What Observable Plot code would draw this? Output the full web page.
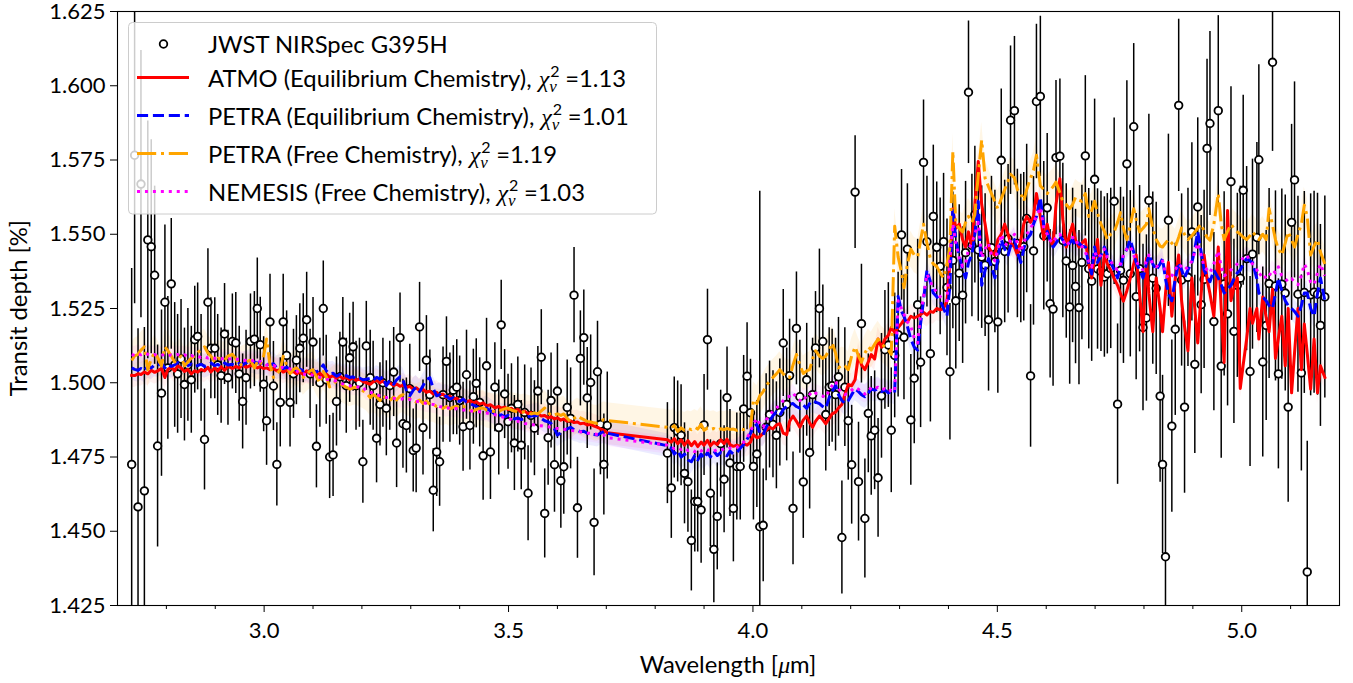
<!DOCTYPE html>
<html><head><meta charset="utf-8">
<script src="https://cdn.jsdelivr.net/npm/d3@7"></script>
<script src="https://cdn.jsdelivr.net/npm/@observablehq/plot@0.6"></script>
<style>
html,body{margin:0;padding:0;background:#fff;}
#chart{width:1353px;height:683px;overflow:hidden;}
</style></head><body><div id="chart"></div>
<script>
// ---- Observed spectrum (JWST NIRSpec G395H) ----
const wavelength = [
2.729,2.735,2.742,2.748,2.755,2.762,2.769,2.776,2.782,2.790,
2.797,2.803,2.810,2.817,2.823,2.830,2.837,2.844,2.851,2.858,
2.864,2.871,2.878,2.885,2.891,2.899,2.905,2.912,2.919,2.926,
2.935,2.942,2.949,2.956,2.963,2.972,2.980,2.986,2.992,2.999,
3.005,3.012,3.019,3.026,3.033,3.039,3.046,3.053,3.060,3.066,
3.073,3.080,3.087,3.094,3.100,3.107,3.114,3.121,3.127,3.134,
3.141,3.148,3.155,3.161,3.168,3.175,3.182,3.188,3.195,3.202,
3.209,3.217,3.223,3.230,3.237,3.243,3.250,3.257,3.265,3.271,
3.278,3.284,3.291,3.298,3.305,3.311,3.318,3.325,3.332,3.339,
3.346,3.353,3.359,3.366,3.373,3.380,3.387,3.394,3.400,3.407,
3.414,3.421,3.428,3.434,3.441,3.448,3.455,3.463,3.472,3.480,
3.485,3.492,3.499,3.506,3.512,3.519,3.526,3.533,3.540,3.546,
3.553,3.560,3.567,3.574,3.581,3.587,3.594,3.600,3.607,3.613,
3.620,3.627,3.634,3.641,3.647,3.654,3.661,3.668,3.675,3.682,
3.688,3.695,3.702,3.825,3.833,3.839,3.846,3.853,3.860,3.867,
3.874,3.881,3.887,3.894,3.900,3.907,3.913,3.920,3.927,3.934,
3.941,3.947,3.953,3.960,3.967,3.974,3.981,3.988,3.995,4.001,
4.008,4.014,4.021,4.027,4.034,4.041,4.048,4.055,4.062,4.069,
4.075,4.082,4.089,4.096,4.103,4.110,4.116,4.122,4.128,4.136,
4.143,4.149,4.156,4.162,4.169,4.175,4.182,4.188,4.195,4.202,
4.209,4.216,4.222,4.229,4.236,4.242,4.249,4.256,4.263,4.270,
4.277,4.283,4.290,4.297,4.304,4.309,4.316,4.323,4.330,4.337,
4.343,4.349,4.356,4.363,4.369,4.376,4.383,4.390,4.397,4.403,
4.409,4.415,4.422,4.429,4.435,4.441,4.448,4.454,4.461,4.468,
4.475,4.482,4.488,4.495,4.501,4.508,4.515,4.522,4.527,4.535,
4.541,4.548,4.554,4.560,4.568,4.574,4.580,4.588,4.595,4.602,
4.608,4.614,4.620,4.628,4.634,4.641,4.648,4.654,4.660,4.667,
4.673,4.680,4.687,4.693,4.699,4.705,4.712,4.719,4.725,4.732,
4.739,4.746,4.752,4.758,4.765,4.772,4.779,4.784,4.791,4.798,
4.805,4.810,4.818,4.825,4.833,4.838,4.844,4.850,4.857,4.864,
4.871,4.877,4.883,4.890,4.898,4.904,4.910,4.917,4.923,4.929,
4.935,4.943,4.952,4.958,4.964,4.971,4.978,4.984,4.991,4.997,
5.003,5.010,5.017,5.022,5.031,5.035,5.043,5.050,5.056,5.063,
5.069,5.075,5.082,5.089,5.095,5.102,5.108,5.115,5.122,5.128,
5.134,5.141,5.148,5.155,5.161,5.170];

const depth = [
1.4725,1.5766,1.4582,1.5669,1.4636,1.5481,1.5458,1.5362,1.4787,1.4965,
1.5271,1.5050,1.5333,1.5060,1.5030,1.5080,1.4994,1.5060,1.5010,1.5145,
1.5156,1.5050,1.4809,1.5271,1.5116,1.5116,1.5060,1.5024,1.5164,1.5017,
1.5139,1.5134,1.5030,1.4937,1.5017,1.5139,1.5147,1.5250,1.5128,1.4995,
1.4872,1.5205,1.4989,1.4725,1.4934,1.5205,1.5092,1.4934,1.5030,1.5076,
1.5116,1.5150,1.5212,1.5030,1.5137,1.4786,1.5000,1.5250,1.5010,1.4750,
1.4757,1.4937,1.5020,1.5137,1.4990,1.5084,1.5121,1.4990,1.5000,1.4734,
1.5124,1.5017,1.4990,1.4813,1.4927,1.5000,1.4914,1.4990,1.5036,1.4797,
1.5152,1.4862,1.4856,1.4980,1.4772,1.4780,1.5188,1.4849,1.5076,1.4960,
1.4638,1.4767,1.4734,1.4960,1.5072,1.4950,1.4975,1.4985,1.4940,1.4852,
1.5027,1.4856,1.4953,1.4998,1.4934,1.4754,1.5057,1.4767,1.4985,1.4849,
1.5195,1.4962,1.4869,1.4914,1.4797,1.4927,1.4790,1.4900,1.4628,1.4890,
1.4847,1.4972,1.5086,1.4560,1.4815,1.4940,1.4724,1.4972,1.4670,1.4717,
1.4917,1.4880,1.5295,1.4579,1.5082,1.5152,1.4949,1.5001,1.4530,1.5037,
1.4860,1.4725,1.4856,1.4763,1.4646,1.4849,1.4836,1.4823,1.4695,1.4667,
1.4469,1.4600,1.4600,1.4572,1.4858,1.5145,1.4628,1.4439,1.4550,1.4795,
1.4675,1.4950,1.4730,1.4577,1.4718,1.4718,1.4912,1.5022,1.4899,1.4718,
1.4760,1.4515,1.4520,1.4850,1.4893,1.4860,1.4823,1.4900,1.5134,1.4927,
1.5024,1.4577,1.5183,1.4953,1.4666,1.5010,1.4765,1.4960,1.5117,1.5250,
1.5139,1.4893,1.4985,1.4990,1.4960,1.5020,1.4479,1.4985,1.4872,1.4724,
1.5642,1.4667,1.5199,1.4543,1.4897,1.4821,1.4840,1.4680,1.4956,1.5111,
1.5127,1.4840,1.5092,1.5162,1.5498,1.5153,1.5450,1.4875,1.5015,1.5263,
1.5069,1.5742,1.5475,1.5098,1.5560,1.5456,1.5392,1.5475,1.5321,1.5037,
1.5412,1.5276,1.5369,1.5295,1.5438,1.5978,1.5462,1.5566,1.5447,1.5423,
1.5396,1.5212,1.5455,1.5408,1.5205,1.5749,1.5442,1.5485,1.5884,1.5916,
1.5469,1.5452,1.5458,1.5553,1.5023,1.5444,1.5947,1.5964,1.5495,1.5589,
1.5266,1.5248,1.5758,1.5763,1.5479,1.5410,1.5255,1.5395,1.5324,1.5253,
1.5405,1.5764,1.5384,1.5342,1.5685,1.5383,1.5375,1.5356,1.5367,1.5385,
1.5611,1.4928,1.5378,1.5345,1.5737,1.5367,1.5862,1.5290,1.5384,1.5186,
1.5218,1.5614,1.5352,1.5318,1.4955,1.4725,1.4414,1.5547,1.4854,1.5180,
1.5934,1.5346,1.4918,1.5355,1.5508,1.5062,1.5592,1.5263,1.5348,1.5789,
1.5873,1.5206,1.5916,1.5056,1.5333,1.5232,1.5677,1.5173,1.5328,1.5352,
1.5648,1.5418,1.5038,1.5433,1.5489,1.5751,1.5070,1.5193,1.5334,1.6079,
1.5326,1.5030,1.5332,1.5302,1.4918,1.5540,1.5683,1.5298,1.5033,1.5304,
1.4363,1.5296,1.5305,1.5298,1.5193,1.5289];

const depthErr = [
0.066,0.050,0.060,0.045,0.055,0.040,0.036,0.030,0.034,0.028,
0.026,0.024,0.022,0.021,0.020,0.020,0.019,0.019,0.018,0.018,
0.018,0.018,0.017,0.018,0.017,0.017,0.017,0.016,0.017,0.016,
0.016,0.017,0.016,0.016,0.016,0.016,0.016,0.017,0.016,0.016,
0.015,0.016,0.015,0.014,0.015,0.016,0.015,0.015,0.015,0.015,
0.015,0.015,0.016,0.015,0.015,0.014,0.015,0.016,0.015,0.014,
0.014,0.015,0.015,0.015,0.016,0.015,0.015,0.015,0.015,0.014,
0.015,0.016,0.015,0.015,0.014,0.015,0.016,0.015,0.015,0.015,
0.015,0.015,0.016,0.015,0.014,0.015,0.015,0.016,0.015,0.015,
0.014,0.015,0.015,0.016,0.015,0.015,0.015,0.016,0.015,0.015,
0.015,0.015,0.016,0.015,0.015,0.015,0.016,0.016,0.015,0.016,
0.015,0.015,0.016,0.015,0.016,0.016,0.015,0.016,0.016,0.016,
0.016,0.015,0.016,0.015,0.016,0.016,0.016,0.016,0.016,0.016,
0.016,0.017,0.016,0.017,0.016,0.016,0.017,0.016,0.018,0.017,
0.017,0.017,0.018,0.017,0.017,0.017,0.017,0.017,0.017,0.017,
0.017,0.017,0.017,0.018,0.017,0.017,0.018,0.018,0.018,0.018,
0.018,0.017,0.018,0.018,0.018,0.018,0.018,0.018,0.018,0.018,
0.018,0.113,0.019,0.018,0.018,0.018,0.018,0.018,0.018,0.019,
0.019,0.019,0.019,0.019,0.019,0.019,0.019,0.019,0.019,0.020,
0.019,0.019,0.020,0.019,0.019,0.020,0.019,0.020,0.020,0.020,
0.019,0.020,0.020,0.020,0.020,0.020,0.020,0.020,0.021,0.020,
0.021,0.021,0.021,0.021,0.022,0.021,0.022,0.022,0.022,0.022,
0.022,0.021,0.022,0.023,0.024,0.022,0.023,0.023,0.023,0.023,
0.023,0.023,0.023,0.023,0.024,0.024,0.024,0.023,0.024,0.024,
0.024,0.024,0.024,0.024,0.024,0.024,0.024,0.025,0.025,0.025,
0.025,0.025,0.025,0.025,0.024,0.025,0.026,0.027,0.025,0.025,
0.025,0.026,0.026,0.026,0.026,0.026,0.026,0.026,0.026,0.026,
0.026,0.027,0.027,0.027,0.027,0.027,0.027,0.027,0.027,0.027,
0.028,0.027,0.028,0.028,0.028,0.028,0.028,0.028,0.028,0.028,
0.028,0.029,0.029,0.029,0.029,0.030,0.030,0.029,0.029,0.029,
0.029,0.029,0.029,0.030,0.030,0.030,0.030,0.030,0.030,0.030,
0.031,0.030,0.032,0.031,0.031,0.031,0.032,0.031,0.031,0.031,
0.032,0.031,0.032,0.032,0.032,0.032,0.032,0.032,0.032,0.030,
0.032,0.032,0.032,0.033,0.032,0.033,0.033,0.033,0.033,0.034,
0.044,0.034,0.034,0.034,0.034,0.034];

// ---- Model spectra (same wavelength grid) ----
const atmoEq = [
1.5025,1.5024,1.5030,1.5028,1.5036,1.5030,1.5042,1.5035,1.5040,1.5048,
1.5018,1.5045,1.5052,1.5040,1.5057,1.5050,1.5038,1.5045,1.5030,1.5040,
1.5036,1.5045,1.5040,1.5052,1.5036,1.5050,1.5040,1.5054,1.5042,1.5055,
1.5048,1.5055,1.5050,1.5060,1.5052,1.5058,1.5057,1.5050,1.5054,1.5048,
1.5050,1.5044,1.5048,1.5040,1.5045,1.5036,1.5042,1.5034,1.5038,1.5030,
1.5036,1.5028,1.5040,1.5030,1.5038,1.5026,1.5032,1.5022,1.5030,1.5018,
1.5024,1.5015,1.5022,1.5014,1.5018,1.5010,1.5016,1.5008,1.5012,1.5004,
1.5000,1.4995,1.5003,1.5008,1.5000,1.5006,1.4994,1.5000,1.4990,1.4996,
1.4988,1.4992,1.4984,1.4988,1.4978,1.4983,1.4974,1.4978,1.4968,1.4972,
1.4962,1.4968,1.4958,1.4962,1.4950,1.4955,1.4946,1.4948,1.4940,1.4944,
1.4936,1.4940,1.4932,1.4936,1.4928,1.4932,1.4922,1.4926,1.4916,1.4920,
1.4914,1.4918,1.4910,1.4914,1.4906,1.4910,1.4900,1.4904,1.4896,1.4900,
1.4892,1.4896,1.4888,1.4890,1.4882,1.4886,1.4878,1.4882,1.4874,1.4878,
1.4870,1.4872,1.4866,1.4868,1.4862,1.4864,1.4858,1.4860,1.4854,1.4850,
1.4845,1.4840,1.4832,1.4808,1.4800,1.4812,1.4795,1.4808,1.4790,1.4805,
1.4788,1.4802,1.4785,1.4800,1.4790,1.4806,1.4788,1.4800,1.4792,1.4808,
1.4795,1.4810,1.4792,1.4786,1.4790,1.4786,1.4795,1.4790,1.4800,1.4825,
1.4815,1.4818,1.4830,1.4840,1.4850,1.4845,1.4858,1.4862,1.4830,1.4825,
1.4870,1.4888,1.4870,1.4850,1.4875,1.4888,1.4865,1.4850,1.4870,1.4888,
1.4875,1.4862,1.4880,1.4895,1.4901,1.4915,1.4927,1.4960,1.4994,1.4990,
1.5010,1.5095,1.5060,1.5044,1.5070,1.5095,1.5080,1.5147,1.5120,1.5147,
1.5160,1.5186,1.5170,1.5186,1.5200,1.5212,1.5205,1.5224,1.5218,1.5224,
1.5230,1.5237,1.5228,1.5240,1.5237,1.5250,1.5245,1.5250,1.5276,1.5400,
1.5586,1.5520,1.5534,1.5482,1.5457,1.5508,1.5457,1.5600,1.5745,1.5600,
1.5534,1.5457,1.5440,1.5430,1.5482,1.5500,1.5534,1.5500,1.5470,1.5457,
1.5430,1.5480,1.5534,1.5560,1.5540,1.5560,1.5637,1.5560,1.5482,1.5534,
1.5482,1.5460,1.5600,1.5687,1.5550,1.5457,1.5500,1.5534,1.5480,1.5457,
1.5470,1.5482,1.5400,1.5353,1.5420,1.5482,1.5328,1.5430,1.5400,1.5379,
1.5350,1.5328,1.5300,1.5275,1.5310,1.5353,1.5400,1.5430,1.5300,1.5172,
1.5418,1.5300,1.5172,1.5353,1.5250,1.5172,1.5300,1.5405,1.5224,1.5350,
1.5430,1.5276,1.5190,1.5108,1.5353,1.5250,1.5134,1.5300,1.5430,1.5350,
1.5300,1.5224,1.5457,1.5250,1.5068,1.5580,1.5276,1.5320,1.5353,1.4981,
1.5060,1.5147,1.5250,1.5200,1.5250,1.5147,1.5289,1.5220,1.5172,1.5315,
1.5082,1.5150,1.5224,1.5057,1.5250,1.4966,1.5100,1.5250,1.5044,1.5198,
1.5100,1.4979,1.5147,1.4966,1.5057,1.5018];

const petraEq = [
1.5050,1.5045,1.5042,1.5048,1.5040,1.5055,1.5050,1.5060,1.5058,1.5065,
1.5050,1.5062,1.5055,1.5060,1.5068,1.5062,1.5070,1.5058,1.5063,1.5055,
1.5058,1.5062,1.5055,1.5060,1.5066,1.5058,1.5062,1.5055,1.5066,1.5060,
1.5062,1.5058,1.5065,1.5060,1.5068,1.5072,1.5070,1.5066,1.5068,1.5062,
1.5066,1.5060,1.5064,1.5050,1.5055,1.5048,1.5052,1.5045,1.5050,1.5042,
1.5046,1.5040,1.5044,1.5038,1.5042,1.5036,1.5045,1.5060,1.5040,1.5030,
1.5032,1.5022,1.5028,1.5020,1.5024,1.5018,1.5020,1.5012,1.5016,1.5010,
1.5012,1.5015,1.5008,1.5018,1.5012,1.5020,1.4990,1.5008,1.4995,1.5010,
1.5020,1.5010,1.4975,1.4956,1.4975,1.4985,1.4970,1.4990,1.5010,1.5017,
1.4980,1.4956,1.4960,1.4950,1.4955,1.4945,1.4950,1.4940,1.4937,1.4945,
1.4935,1.4930,1.4925,1.4920,1.4912,1.4910,1.4915,1.4905,1.4895,1.4889,
1.4892,1.4885,1.4890,1.4882,1.4878,1.4882,1.4876,1.4880,1.4885,1.4888,
1.4889,1.4890,1.4880,1.4872,1.4868,1.4863,1.4845,1.4824,1.4832,1.4840,
1.4845,1.4850,1.4842,1.4840,1.4835,1.4837,1.4830,1.4828,1.4826,1.4824,
1.4830,1.4836,1.4830,1.4788,1.4780,1.4760,1.4772,1.4750,1.4760,1.4740,
1.4734,1.4755,1.4740,1.4760,1.4745,1.4765,1.4750,1.4770,1.4755,1.4765,
1.4760,1.4754,1.4770,1.4760,1.4765,1.4780,1.4792,1.4810,1.4830,1.4850,
1.4860,1.4830,1.4824,1.4850,1.4870,1.4890,1.4902,1.4890,1.4910,1.4920,
1.4927,1.4930,1.4920,1.4914,1.4925,1.4914,1.4930,1.4940,1.4935,1.4930,
1.4920,1.4914,1.4950,1.4970,1.4992,1.4960,1.4940,1.4930,1.4940,1.4960,
1.4979,1.4970,1.4960,1.4953,1.4965,1.4979,1.4975,1.4979,1.4970,1.4975,
1.4966,1.4970,1.4966,1.5290,1.5240,1.5224,1.5190,1.5147,1.5120,1.5110,
1.5200,1.5276,1.5380,1.5340,1.5302,1.5290,1.5276,1.5250,1.5224,1.5328,
1.5590,1.5482,1.5430,1.5379,1.5353,1.5405,1.5430,1.5500,1.5610,1.5328,
1.5380,1.5418,1.5390,1.5353,1.5420,1.5482,1.5450,1.5430,1.5460,1.5482,
1.5440,1.5405,1.5450,1.5482,1.5500,1.5534,1.5560,1.5624,1.5530,1.5510,
1.5480,1.5457,1.5470,1.5495,1.5480,1.5457,1.5470,1.5482,1.5460,1.5470,
1.5460,1.5457,1.5400,1.5366,1.5457,1.5405,1.5430,1.5457,1.5430,1.5405,
1.5380,1.5353,1.5390,1.5430,1.5450,1.5482,1.5440,1.5405,1.5380,1.5353,
1.5400,1.5430,1.5400,1.5379,1.5400,1.5418,1.5350,1.5300,1.5276,1.5350,
1.5405,1.5380,1.5353,1.5380,1.5405,1.5450,1.5508,1.5440,1.5379,1.5360,
1.5340,1.5379,1.5353,1.5330,1.5302,1.5315,1.5328,1.5350,1.5370,1.5379,
1.5400,1.5418,1.5410,1.5405,1.5350,1.5302,1.5290,1.5276,1.5260,1.5250,
1.5300,1.5353,1.5310,1.5276,1.5260,1.5250,1.5240,1.5224,1.5260,1.5302,
1.5302,1.5250,1.5224,1.5300,1.5353,1.5276];

const petraFree = [
1.5075,1.5090,1.5096,1.5110,1.5121,1.5044,1.5080,1.5102,1.5085,1.5057,
1.5121,1.5108,1.5090,1.5070,1.5080,1.5090,1.5057,1.5070,1.5083,1.5090,
1.5102,1.5110,1.5121,1.5100,1.5090,1.5070,1.5083,1.5080,1.5076,1.5090,
1.5096,1.5080,1.5057,1.5065,1.5070,1.5076,1.5050,1.5070,1.5060,1.5090,
1.5147,1.5060,1.5018,1.5030,1.5044,1.5089,1.5060,1.5031,1.5045,1.5050,
1.5040,1.5018,1.5030,1.5040,1.5044,1.5020,1.4999,1.5038,1.5020,1.4986,
1.4995,1.5005,1.4998,1.4992,1.4985,1.4979,1.4983,1.4986,1.4978,1.4973,
1.4966,1.4950,1.4960,1.4953,1.4940,1.4958,1.4945,1.4940,1.4952,1.4942,
1.4955,1.4960,1.4950,1.4946,1.4940,1.4935,1.4942,1.4930,1.4938,1.4927,
1.4927,1.4920,1.4918,1.4914,1.4920,1.4912,1.4918,1.4921,1.4915,1.4922,
1.4912,1.4908,1.4905,1.4910,1.4914,1.4915,1.4908,1.4905,1.4903,1.4902,
1.4908,1.4912,1.4915,1.4908,1.4905,1.4902,1.4900,1.4902,1.4898,1.4895,
1.4898,1.4895,1.4905,1.4915,1.4900,1.4889,1.4892,1.4895,1.4890,1.4895,
1.4880,1.4869,1.4880,1.4889,1.4882,1.4876,1.4870,1.4868,1.4865,1.4863,
1.4870,1.4876,1.4873,1.4850,1.4847,1.4856,1.4836,1.4848,1.4840,1.4846,
1.4842,1.4850,1.4844,1.4860,1.4840,1.4848,1.4843,1.4846,1.4840,1.4845,
1.4842,1.4846,1.4843,1.4844,1.4840,1.4845,1.4842,1.4846,1.4850,1.4943,
1.4930,1.4956,1.4970,1.4990,1.5005,1.5018,1.5030,1.5044,1.5030,1.5018,
1.5018,1.5060,1.5095,1.5060,1.5031,1.5040,1.5044,1.5080,1.5108,1.5090,
1.5082,1.5090,1.5110,1.5134,1.5100,1.5050,1.5060,1.5057,1.5044,1.5090,
1.5121,1.5090,1.5069,1.5100,1.5121,1.5110,1.5130,1.5147,1.5130,1.5121,
1.5110,1.5095,1.5527,1.5424,1.5372,1.5320,1.5400,1.5450,1.5430,1.5424,
1.5480,1.5534,1.5470,1.5418,1.5400,1.5392,1.5370,1.5353,1.5400,1.5456,
1.5780,1.5534,1.5520,1.5508,1.5540,1.5560,1.5540,1.5566,1.5700,1.5817,
1.5689,1.5660,1.5637,1.5610,1.5586,1.5620,1.5650,1.5680,1.5702,1.5690,
1.5650,1.5637,1.5611,1.5650,1.5689,1.5715,1.5766,1.5663,1.5650,1.5637,
1.5650,1.5660,1.5676,1.5640,1.5611,1.5600,1.5586,1.5600,1.5624,1.5615,
1.5611,1.5637,1.5560,1.5580,1.5611,1.5570,1.5534,1.5510,1.5482,1.5500,
1.5508,1.5540,1.5573,1.5520,1.5482,1.5530,1.5586,1.5550,1.5508,1.5520,
1.5534,1.5586,1.5520,1.5482,1.5460,1.5457,1.5470,1.5482,1.5470,1.5457,
1.5490,1.5521,1.5500,1.5482,1.5495,1.5508,1.5520,1.5534,1.5510,1.5490,
1.5480,1.5534,1.5637,1.5534,1.5482,1.5510,1.5534,1.5520,1.5508,1.5500,
1.5490,1.5482,1.5495,1.5508,1.5490,1.5482,1.5500,1.5482,1.5586,1.5530,
1.5482,1.5450,1.5430,1.5470,1.5508,1.5480,1.5457,1.5500,1.5534,1.5598,
1.5560,1.5430,1.5460,1.5482,1.5440,1.5400];

const nemesisFree = [
1.5095,1.5092,1.5098,1.5094,1.5100,1.5096,1.5092,1.5095,1.5090,1.5093,
1.5095,1.5090,1.5094,1.5092,1.5095,1.5090,1.5094,1.5088,1.5092,1.5086,
1.5090,1.5085,1.5088,1.5083,1.5086,1.5082,1.5085,1.5080,1.5084,1.5079,
1.5082,1.5078,1.5080,1.5075,1.5076,1.5072,1.5076,1.5070,1.5072,1.5068,
1.5060,1.5057,1.5058,1.5054,1.5050,1.5052,1.5048,1.5046,1.5044,1.5040,
1.5031,1.5030,1.5026,1.5028,1.5025,1.5022,1.5018,1.5015,1.5012,1.5010,
1.5008,1.5005,1.5000,1.4996,1.4992,1.4990,1.4986,1.4988,1.4984,1.4986,
1.4972,1.4968,1.4965,1.4960,1.4956,1.4953,1.4950,1.4952,1.4948,1.4947,
1.4945,1.4946,1.4942,1.4944,1.4940,1.4938,1.4936,1.4934,1.4930,1.4928,
1.4927,1.4924,1.4920,1.4918,1.4914,1.4916,1.4912,1.4913,1.4910,1.4908,
1.4908,1.4906,1.4904,1.4903,1.4902,1.4900,1.4898,1.4895,1.4892,1.4889,
1.4886,1.4882,1.4880,1.4876,1.4872,1.4870,1.4868,1.4863,1.4862,1.4860,
1.4858,1.4856,1.4855,1.4853,1.4852,1.4850,1.4848,1.4846,1.4845,1.4843,
1.4842,1.4840,1.4838,1.4837,1.4835,1.4833,1.4831,1.4830,1.4828,1.4826,
1.4825,1.4824,1.4815,1.4790,1.4785,1.4778,1.4782,1.4775,1.4780,1.4772,
1.4775,1.4768,1.4776,1.4770,1.4778,1.4772,1.4776,1.4770,1.4775,1.4772,
1.4778,1.4775,1.4780,1.4778,1.4782,1.4790,1.4800,1.4815,1.4835,1.4860,
1.4880,1.4860,1.4850,1.4875,1.4890,1.4905,1.4915,1.4925,1.4940,1.4950,
1.4955,1.4966,1.4950,1.4940,1.4955,1.4945,1.4960,1.4972,1.4965,1.4960,
1.4955,1.4950,1.4975,1.4990,1.5005,1.4980,1.4965,1.4960,1.4965,1.4975,
1.4985,1.4978,1.4968,1.4962,1.4970,1.4985,1.4980,1.4985,1.4976,1.4980,
1.4970,1.4975,1.4970,1.5276,1.5250,1.5230,1.5205,1.5190,1.5150,1.5134,
1.5230,1.5290,1.5366,1.5340,1.5320,1.5305,1.5290,1.5280,1.5276,1.5420,
1.5534,1.5470,1.5420,1.5392,1.5400,1.5450,1.5470,1.5500,1.5540,1.5420,
1.5450,1.5470,1.5430,1.5410,1.5450,1.5500,1.5470,1.5460,1.5480,1.5500,
1.5470,1.5440,1.5470,1.5500,1.5520,1.5540,1.5560,1.5590,1.5520,1.5500,
1.5480,1.5470,1.5490,1.5500,1.5480,1.5460,1.5475,1.5490,1.5470,1.5475,
1.5460,1.5440,1.5410,1.5390,1.5440,1.5420,1.5430,1.5450,1.5420,1.5410,
1.5390,1.5380,1.5400,1.5430,1.5450,1.5460,1.5430,1.5410,1.5390,1.5380,
1.5410,1.5430,1.5400,1.5390,1.5400,1.5410,1.5370,1.5350,1.5360,1.5380,
1.5400,1.5390,1.5380,1.5390,1.5410,1.5440,1.5470,1.5430,1.5390,1.5380,
1.5370,1.5400,1.5444,1.5390,1.5360,1.5370,1.5380,1.5390,1.5400,1.5410,
1.5420,1.5430,1.5410,1.5400,1.5380,1.5360,1.5370,1.5350,1.5360,1.5380,
1.5370,1.5390,1.5360,1.5350,1.5340,1.5350,1.5340,1.5330,1.5360,1.5400,
1.5380,1.5340,1.5330,1.5370,1.5400,1.5360];

// ---- Axis ticks, legend text ----
const xTicks = [3.0, 3.5, 4.0, 4.5, 5.0];
const xMinorTicks = [2.8,2.9,3.1,3.2,3.3,3.4,3.6,3.7,3.8,3.9,4.1,4.2,4.3,4.4,4.6,4.7,4.8,4.9,5.1];
const yTicks = [1.425,1.450,1.475,1.500,1.525,1.550,1.575,1.600,1.625];
const dataLabel = "JWST NIRSpec G395H";
const modelLabels = ["ATMO (Equilibrium Chemistry),", "PETRA (Equilibrium Chemistry),", "PETRA (Free Chemistry),", "NEMESIS (Free Chemistry),"];
const chiValues = ["1.13", "1.01", "1.19", "1.03"];
const modelColors = ["#ff0000", "#0000ff", "#ffa500", "#ff00ff"];
const modelDash = [null, "11.1,4.8", "19.2,4.8,3,4.8", "3,4.95"];
const bandHalfWidth = [0.004, 0.004, 0.006, 0.003];
const bandOpacity = [0.06, 0.08, 0.10, 0.06];

const X0 = 2.7, X1 = 5.2, Y0 = 1.425, Y1 = 1.625;
const FONT = "Lato, 'Open Sans', sans-serif";
const SERIF = "'Liberation Serif', 'DejaVu Serif', serif";
const LABEL_SIZE = 23.8;

const n = Math.min(wavelength.length, depth.length, depthErr.length);
const obs = d3.range(n).map(i => ({w: wavelength[i], d: depth[i], e: depthErr[i]}));
const modelArrays = [atmoEq, petraEq, petraFree, nemesisFree];
const models = modelArrays.map(arr => arr.map((v, i) => ({w: wavelength[i], v})).filter(p => p.w !== undefined && p.v !== undefined));

const marks = [];
models.forEach((m, k) => {
  marks.push(Plot.areaY(m, {x: "w", y1: p => p.v - bandHalfWidth[k], y2: p => p.v + bandHalfWidth[k], fill: modelColors[k], fillOpacity: bandOpacity[k]}));
});
marks.push(Plot.ruleX(obs, {x: "w", y1: p => Math.max(Y0, p.d - p.e), y2: p => Math.min(Y1, p.d + p.e), stroke: "black", strokeWidth: 1.5}));
marks.push(Plot.dot(obs, {x: "w", y: "d", r: 3.8, fill: "white", stroke: "black", strokeWidth: 1.8}));
models.forEach((m, k) => {
  marks.push(Plot.line(m, {x: "w", y: "v", stroke: modelColors[k], strokeWidth: 3, strokeDasharray: modelDash[k] || undefined, strokeLinejoin: "round", strokeLinecap: k === 0 ? "square" : "butt"}));
});
marks.push(Plot.frame({stroke: "black", strokeWidth: 1.1}));
marks.push(Plot.axisX({ticks: xMinorTicks, tickSize: 4, tickFormat: () => "", label: null}));
marks.push(Plot.axisX({ticks: xTicks, tickSize: 7, tickPadding: 10, tickFormat: d3.format(".1f"), label: null}));
marks.push(Plot.axisY({ticks: yTicks, tickSize: 7, tickPadding: 5, tickFormat: d3.format(".3f"), label: null}));

const chart = Plot.plot({
  width: 1353, height: 683,
  marginLeft: 117, marginRight: 14, marginTop: 11, marginBottom: 78,
  x: {domain: [X0, X1], label: null},
  y: {domain: [Y0, Y1], label: null},
  style: {background: "white", fontFamily: FONT, fontSize: "22px", color: "black", overflow: "visible"},
  marks
});
document.getElementById("chart").appendChild(chart);

// ---- Axis titles ----
const svg = d3.select(chart);
const xt = svg.append("text").attr("x", 728).attr("y", 673).attr("text-anchor", "middle")
  .attr("font-family", FONT).attr("font-size", LABEL_SIZE).attr("fill", "black");
xt.append("tspan").text("Wavelength [");
xt.append("tspan").attr("font-family", SERIF).attr("font-style", "italic").text("μ");
xt.append("tspan").text("m]");
svg.append("text").attr("transform", "translate(27,308) rotate(-90)").attr("text-anchor", "middle")
  .attr("font-family", FONT).attr("font-size", LABEL_SIZE).attr("fill", "black").text("Transit depth [%]");

// ---- Legend ----
const handleY = [44, 77.5, 115.5, 153.5, 191.5];
const baseY = [52.5, 86.5, 124.5, 162.5, 200.5];
const L = svg.append("g").attr("font-family", FONT).attr("font-size", LABEL_SIZE).attr("fill", "black").attr("text-anchor", "start");
L.append("rect").attr("x", 128.5).attr("y", 22.5).attr("width", 528).attr("height", 191.5).attr("rx", 4)
  .attr("fill", "white").attr("fill-opacity", 0.8).attr("stroke", "#cccccc").attr("stroke-width", 1);
L.append("circle").attr("cx", 163.5).attr("cy", handleY[0]).attr("r", 3.8).attr("fill", "white").attr("stroke", "black").attr("stroke-width", 1.8);
L.append("text").attr("x", 208).attr("y", baseY[0]).attr("text-anchor", "start").text(dataLabel);
modelLabels.forEach((lab, k) => {
  const hy = handleY[k + 1], by = baseY[k + 1];
  const ln = L.append("line").attr("x1", 137).attr("x2", 189).attr("y1", hy).attr("y2", hy)
    .attr("stroke", modelColors[k]).attr("stroke-width", 3);
  if (modelDash[k]) ln.attr("stroke-dasharray", modelDash[k]);
  const t = L.append("text").attr("x", 208).attr("y", by).attr("text-anchor", "start").text(lab);
  const w = t.node().getComputedTextLength();
  const x = 208 + w + 7;
  const chi = L.append("text").attr("x", x).attr("y", by).attr("text-anchor", "start").attr("font-family", SERIF).attr("font-style", "italic").attr("font-size", 24).text("χ");
  const cw = chi.node().getComputedTextLength();
  L.append("text").attr("x", x + cw + 1).attr("y", by - 10).attr("text-anchor", "start").attr("font-size", 16).text("2");
  L.append("text").attr("x", x + cw).attr("y", by + 5).attr("text-anchor", "start").attr("font-family", SERIF).attr("font-style", "italic").attr("font-size", 17).text("ν");
  L.append("text").attr("x", x + cw + 16).attr("y", by).attr("text-anchor", "start").text("=" + chiValues[k]);
});
</script></body></html>
